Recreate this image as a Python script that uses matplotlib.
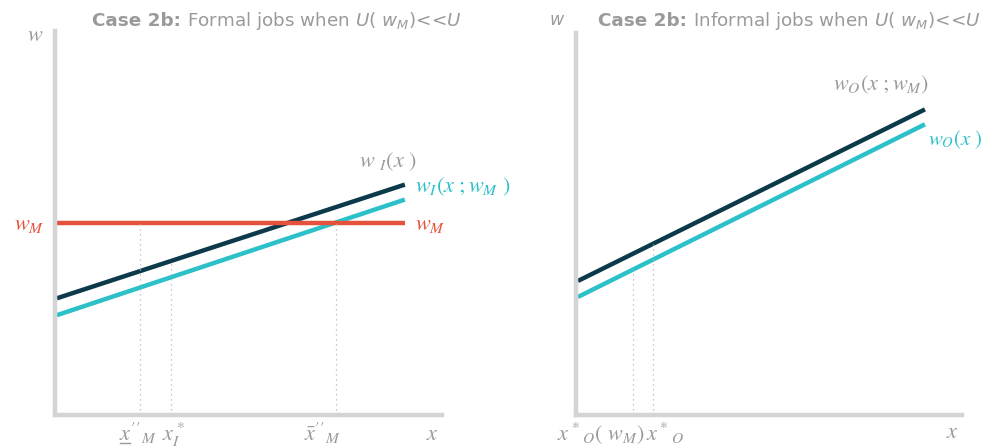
import matplotlib
matplotlib.use("Agg")
import matplotlib.pyplot as plt
from matplotlib.lines import Line2D
import numpy as np

plt.rcParams['font.family'] = ['DejaVu Sans']
plt.rcParams['mathtext.fontset'] = 'custom'
plt.rcParams['mathtext.rm'] = 'DejaVu Sans'
plt.rcParams['mathtext.it'] = 'DejaVu Sans:italic'
plt.rcParams['mathtext.bf'] = 'DejaVu Sans:bold'

# ---- data (abstract units 0..10) ----
left_x = [0.05, 9.04]
w1 = [3.04, 6.0]          # w_1(x)
w1_wM = [2.6, 5.61]       # w_1(x; w_M)
wM = 5.01                 # minimum wage
x_low_M = 2.2
x1_star = 3.0
x_bar_M = 7.25

right_x = [0.05, 9.04]
w0_wM = [3.51, 8.0]       # w_0(x; w_M)
w0 = [3.09, 7.61]         # w_0(x)
x0_star_wM = 1.48
x0_star = 2.0

NAVY = '#0c3a4b'
TEAL = '#2cc0c9'
RED = '#e4523b'
GREY = '#9a9a9a'
SPINE = '#d4d4d4'

W, H = 985, 448
fig = plt.figure(figsize=(W / 100, H / 100), dpi=100)


def make_ax(l, r, b, t):
    ax = fig.add_axes([l / W, (H - b) / H, (r - l) / W, (b - t) / H])
    ax.set_xlim(0, 10)
    ax.set_ylim(0, 10)
    for s in ['top', 'right']:
        ax.spines[s].set_visible(False)
    for s in ['left', 'bottom']:
        ax.spines[s].set_color(SPINE)
        ax.spines[s].set_linewidth(3.2)
    ax.set_xticks([])
    ax.set_yticks([])
    ax.patch.set_alpha(0)
    return ax


def interp(xs, ys, x):
    return np.interp(x, xs, ys)


LBL = dict(math_fontfamily='stix', fontsize=16)

# ---------------- left panel ----------------
axL = make_ax(55, 442, 415, 31)
axL.plot(left_x, w1, color=NAVY, lw=3.2, solid_capstyle='butt')
axL.plot(left_x, w1_wM, color=TEAL, lw=3.2, solid_capstyle='butt')
axL.plot(left_x, [wM, wM], color=RED, lw=3.2, solid_capstyle='butt')
dot = dict(color='#b5b5b5', lw=0.9, ls=(0, (1, 3)))
axL.plot([x_low_M, x_low_M], [0, wM], **dot)
axL.plot([x1_star, x1_star], [0, interp(left_x, w1, x1_star)], **dot)
axL.plot([x_bar_M, x_bar_M], [0, wM], **dot)

axL.text(-0.5, 9.9, r'$w$', color=GREY, ha='center', va='center', **LBL)
axL.text(-0.28, wM - 0.05, r'$w_M$', color=RED, ha='right', va='center', **LBL)
axL.text(9.3, wM - 0.05, r'$w_M$', color=RED, ha='left', va='center', **LBL)
axL.text(8.6, 6.6, r'$w\ _I(x\ )$', color=GREY, ha='center', va='center', **LBL)
axL.text(9.3, 5.95, r'$w_I(x\ ;w_M\ )$', color=TEAL, ha='left', va='center', **LBL)

ybase = -0.66
t_ul = axL.text(x_low_M - 0.55, ybase, r"$x''_M$", color=GREY, ha='left', va='baseline', **LBL)
axL.text(x1_star + 0.05, ybase, r'$x^*_I$', color=GREY, ha='center', va='baseline', **LBL)
axL.text(x_bar_M - 0.35, ybase, r"$\bar{x}''_M$", color=GREY, ha='center', va='baseline', **LBL)
axL.text(9.75, ybase, r'$x$', color=GREY, ha='center', va='baseline', **LBL)

# ---------------- right panel ----------------
axR = make_ax(576, 962, 415, 33)
axR.plot(right_x, w0_wM, color=NAVY, lw=3.2, solid_capstyle='butt')
axR.plot(right_x, w0, color=TEAL, lw=3.2, solid_capstyle='butt')
axR.plot([x0_star_wM, x0_star_wM], [0, interp(right_x, w0, x0_star_wM)], **dot)
axR.plot([x0_star, x0_star], [0, interp(right_x, w0_wM, x0_star)], **dot)

axR.text(-0.5, 10.35, r'$w$', color=GREY, ha='center', va='center', fontsize=12.5,
         math_fontfamily='custom')
axR.text(7.9, 8.65, r'$w_O(x\ ;w_M)$', color=GREY, ha='center', va='center', **LBL)
axR.text(9.12, 7.2, r'$w_O(x\ )$', color=TEAL, ha='left', va='center',
         math_fontfamily='stix', fontsize=15)
axR.text(-0.5, ybase, r'$x^*{}_O(\ w_M)\,x^*{}_O$', color=GREY, ha='left', va='baseline', **LBL)
axR.text(9.75, ybase + 0.05, r'$x$', color=GREY, ha='center', va='baseline', **LBL)

# ---------------- titles & underline ----------------
fig.canvas.draw()
renderer = fig.canvas.get_renderer()

# underline under the x of x''_M
probe = axL.text(x_low_M - 0.55, ybase, r"$x$", color='none', ha='left', va='baseline', **LBL)
bbx = probe.get_window_extent(renderer)
probe.remove()
base_disp = axL.transData.transform((x_low_M, ybase))[1]
yline = base_disp - 3
fig.add_artist(Line2D([(bbx.x0 + 1) / W, (bbx.x1 - 1) / W], [yline / H, yline / H],
                      color=GREY, lw=1.0))


def title(x_px, rest, fs=13.2):
    t1 = fig.text(x_px / W, 1 - 21 / H, 'Case 2b:', fontsize=fs, fontweight='bold',
                  color=GREY, ha='left', va='center')
    bb = t1.get_window_extent(renderer)
    x2 = bb.x1 + 6
    fig.text(x2 / W, 1 - 21 / H, rest + r' $U(\ w_M)$<<$U$', fontsize=fs,
             color=GREY, ha='left', va='center', math_fontfamily='custom')


title(92, 'Formal jobs when')
title(598, 'Informal jobs when')

fig.savefig('out.png', dpi=100)
